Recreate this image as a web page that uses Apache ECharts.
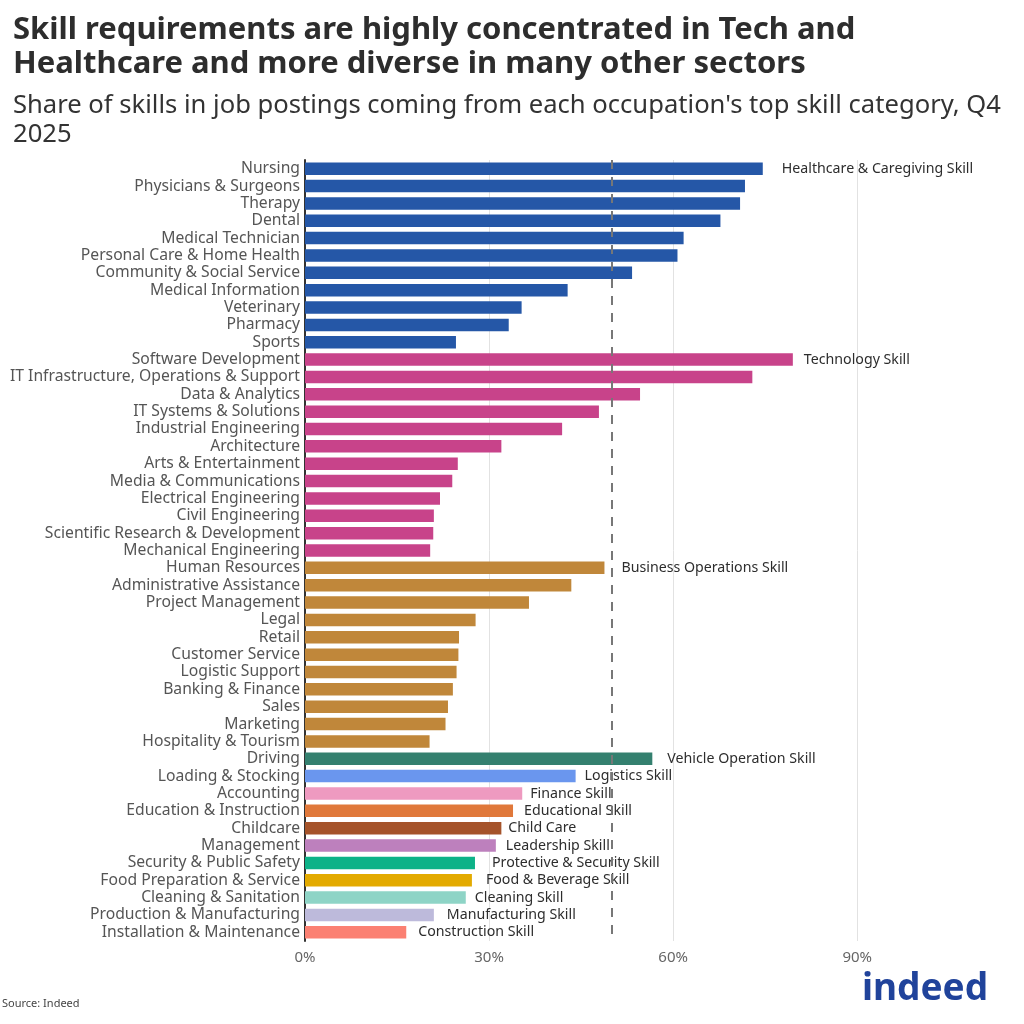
<!DOCTYPE html>
<html>
<head>
<meta charset="utf-8">
<script src="https://cdn.jsdelivr.net/npm/echarts@6/dist/echarts.min.js"></script>
<style>
  html, body { margin: 0; padding: 0; background: #fff; }
  #chart { width: 1024px; height: 1024px; }
</style>
</head>
<body>
<div id="chart"></div>
<script>
// occupations, top to bottom
const occupations = [
  'Nursing', 'Physicians & Surgeons', 'Therapy', 'Dental', 'Medical Technician',
  'Personal Care & Home Health', 'Community & Social Service', 'Medical Information',
  'Veterinary', 'Pharmacy', 'Sports',
  'Software Development', 'IT Infrastructure, Operations & Support', 'Data & Analytics',
  'IT Systems & Solutions', 'Industrial Engineering', 'Architecture', 'Arts & Entertainment',
  'Media & Communications', 'Electrical Engineering', 'Civil Engineering',
  'Scientific Research & Development', 'Mechanical Engineering',
  'Human Resources', 'Administrative Assistance', 'Project Management', 'Legal', 'Retail',
  'Customer Service', 'Logistic Support', 'Banking & Finance', 'Sales', 'Marketing',
  'Hospitality & Tourism',
  'Driving', 'Loading & Stocking', 'Accounting', 'Education & Instruction', 'Childcare',
  'Management', 'Security & Public Safety', 'Food Preparation & Service',
  'Cleaning & Sanitation', 'Production & Manufacturing', 'Installation & Maintenance'
];

// share (%) of skills from the top skill category
const shares = [
  74.6, 71.7, 70.9, 67.7, 61.7, 60.7, 53.3, 42.8, 35.3, 33.2, 24.6,
  79.5, 72.9, 54.6, 47.9, 41.9, 32.0, 24.9, 24.0, 22.0, 21.0, 20.9, 20.4,
  48.8, 43.4, 36.5, 27.8, 25.1, 25.0, 24.7, 24.1, 23.3, 22.9, 20.3,
  56.6, 44.1, 35.4, 33.9, 32.0, 31.1, 27.7, 27.2, 26.2, 21.0, 16.5
];

// top skill category index for each occupation
const skillIndex = [
  0, 0, 0, 0, 0, 0, 0, 0, 0, 0, 0,
  1, 1, 1, 1, 1, 1, 1, 1, 1, 1, 1, 1,
  2, 2, 2, 2, 2, 2, 2, 2, 2, 2, 2,
  3, 4, 5, 6, 7, 8, 9, 10, 11, 12, 13
];

const skillNames = [
  'Healthcare & Caregiving Skill', 'Technology Skill', 'Business Operations Skill',
  'Vehicle Operation Skill', 'Logistics Skill', 'Finance Skill', 'Educational Skill',
  'Child Care', 'Leadership Skill', 'Protective & Security Skill', 'Food & Beverage Skill',
  'Cleaning Skill', 'Manufacturing Skill', 'Construction Skill'
];

const skillColors = [
  '#2557a7', '#c8438a', '#c0873a', '#34806f', '#6a96ee', '#ee9ac0', '#e0783a',
  '#a5532a', '#bd80bd', '#0db288', '#e3aa00', '#8ed4c6', '#bdbadb', '#fb8072'
];

const xTicks = [0, 30, 60, 90];
const referenceLine = 50;

const FONT = '"Noto Sans", "Open Sans", sans-serif';
const LABEL_SIZE = 14.2;

const measure = document.createElement('canvas').getContext('2d');
measure.font = LABEL_SIZE + 'px "Noto Sans"';

// label only the first bar of each skill group
const seen = {};
const barData = shares.map((v, i) => {
  const g = skillIndex[i];
  const item = { value: v, itemStyle: { color: skillColors[g] } };
  if (!seen[g]) {
    seen[g] = true;
    const w = measure.measureText(skillNames[g]).width;
    item.label = {
      show: true,
      position: 'right',
      distance: Math.round(w * 0.1),
      formatter: skillNames[g],
      color: '#2d2d2d',
      fontSize: LABEL_SIZE,
      fontFamily: FONT
    };
  }
  return item;
});

const chart = echarts.init(document.getElementById('chart'));

chart.setOption({
  backgroundColor: '#fff',
  animation: false,
  title: {
    text: 'Skill requirements are highly concentrated in Tech and\nHealthcare and more diverse in many other sectors',
    subtext: "Share of skills in job postings coming from each occupation's top skill category, Q4\n2025",
    left: 8,
    top: 8,
    itemGap: 10,
    textStyle: { fontFamily: FONT, fontSize: 31, fontWeight: 'bold', color: '#2d2d2d', lineHeight: 34 },
    subtextStyle: { fontFamily: FONT, fontSize: 25.6, color: '#333', lineHeight: 29 }
  },
  grid: { left: 305, right: 44, top: 160, bottom: 83, containLabel: false },
  xAxis: {
    type: 'value',
    min: 0,
    max: 110,
    interval: 30,
    axisLine: { show: false },
    axisTick: { show: false },
    axisLabel: {
      formatter: v => xTicks.includes(v) ? v + '%' : '',
      showMaxLabel: false,
      color: '#666',
      fontSize: 15,
      fontFamily: FONT,
      margin: 9
    },
    splitLine: { show: true, showMaxLine: false, lineStyle: { color: '#e2e2e2', width: 1 } }
  },
  yAxis: {
    type: 'category',
    inverse: true,
    data: occupations,
    axisLine: { show: true, lineStyle: { color: '#333', width: 2 } },
    axisTick: { show: false },
    axisLabel: { interval: 0, color: '#555', fontSize: 15.7, fontFamily: FONT, margin: 5 },
    splitLine: { show: false }
  },
  series: [{
    type: 'bar',
    data: barData,
    barCategoryGap: '28%',
    label: { show: false },
    markLine: {
      silent: true,
      symbol: 'none',
      label: { show: false },
      lineStyle: { color: '#777', type: [9, 8], width: 2 },
      data: [{ xAxis: referenceLine }]
    }
  }],
  graphic: [
    {
      type: 'text', left: 2, top: 998,
      style: { text: 'Source: Indeed', fill: '#444', font: '11px ' + FONT }
    },
    {
      type: 'text', left: 862, top: 971,
      style: { text: 'indeed', fill: '#20439b', font: 'bold 37px ' + FONT }
    }
  ]
});
</script>
</body>
</html>
